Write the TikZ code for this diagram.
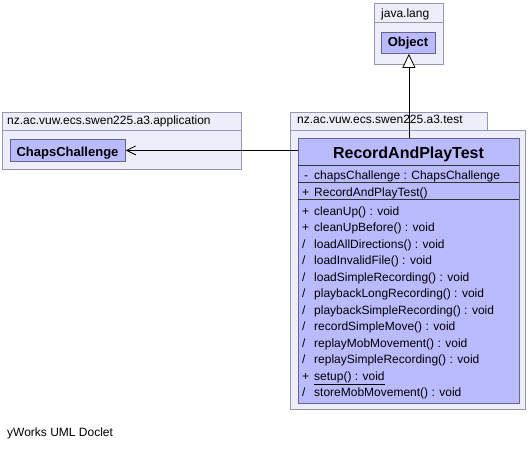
\documentclass[tikz,border=0pt]{standalone}
\usepackage{fontspec}
\setmainfont{Liberation Sans}
\usetikzlibrary{arrows.meta}
\definecolor{pkgfill}{RGB}{238,238,250}
\definecolor{pkgline}{RGB}{150,150,175}
\definecolor{clsfill}{RGB}{186,186,255}
\definecolor{clsline}{RGB}{100,100,140}
\begin{document}
\begin{tikzpicture}[x=1pt,y=-1pt,
    pkg/.style={draw=pkgline,fill=pkgfill,line width=0.8pt},
    cls/.style={draw=clsline,fill=clsfill,line width=0.8pt,inner sep=0pt,anchor=north west},
    lbl/.style={anchor=base west,inner sep=0pt,font=\fontsize{12}{14}\selectfont},
    ttl/.style={anchor=base,inner sep=0pt,font=\fontsize{13}{15}\selectfont\bfseries},
    sep/.style={draw=black!80,line width=0.8pt},
    assoc/.style={line width=0.8pt,-{Straight Barb[length=9pt,width=9pt]}},
    inherit/.style={line width=0.8pt,-{Triangle[open,length=14pt,width=13pt,fill=white]}}]
    \useasboundingbox (0,0) rectangle (529,448);
    % packages
    \draw[pkg] (374,3) rectangle (443,22);
    \draw[pkg] (374,22) rectangle (443,64);
    \draw[pkg] (2,112) rectangle (241,130);
    \draw[pkg] (2,130) rectangle (241,169);
    \draw[pkg] (290,112) rectangle (487,130);
    \draw[pkg] (290,130) rectangle (525,409);
    \node[lbl] (langname) at (381,17) {java.lang};
    \node[lbl] (appname) at (7,124) {nz.ac.vuw.ecs.swen225.a3.application};
    \node[lbl] (testname) at (297,123) {nz.ac.vuw.ecs.swen225.a3.test};
    % classes
    \node[cls,minimum width=54pt,minimum height=21pt] (object) at (381,32) {};
    \node[ttl] at (408,46) {Object};
    \node[cls,minimum width=115pt,minimum height=22pt] (chaps) at (10,139) {};
    \node[ttl] at (67.5,156) {ChapsChallenge};
    \node[cls,minimum width=221pt,minimum height=265pt] (rapt) at (298,138) {};
    \node[ttl,font=\fontsize{16}{18}\selectfont\bfseries] (raptname) at (408.5,158) {RecordAndPlayTest};
    \draw[sep] (298,165) -- (519,165);
    \draw[sep] (298,182.5) -- (519,182.5);
    \draw[sep] (298,199) -- (519,199);
    \node[lbl] at (304,179) {-};
    \node[lbl] at (314,179) {chapsChallenge : ChapsChallenge};
    \node[lbl] at (302,196) {+};
    \node[lbl] at (314,196) {RecordAndPlayTest()};
    \foreach \vis/\op [count=\i from 0] in {{+}/{cleanUp() : void}, {+}/{cleanUpBefore() : void},
        {/}/{loadAllDirections() : void}, {/}/{loadInvalidFile() : void},
        {/}/{loadSimpleRecording() : void}, {/}/{playbackLongRecording() : void},
        {/}/{playbackSimpleRecording() : void}, {/}/{recordSimpleMove() : void},
        {/}/{replayMobMovement() : void}, {/}/{replaySimpleRecording() : void},
        {+}/{\underline{setup() : void}}, {/}/{storeMobMovement() : void}}
        {
        \node[lbl] at (302,215+16.5*\i) {\vis};
        \node[lbl] at (314,215+16.5*\i) {\op};
        }
    % relations
    \draw[assoc] (rapt.west |- chaps.east) -- (chaps.east);
    \draw[inherit] (rapt.north) -- (rapt.north |- object.south);
    \node[lbl] (credit) at (7,436) {yWorks UML Doclet};
\end{tikzpicture}
\end{document}
